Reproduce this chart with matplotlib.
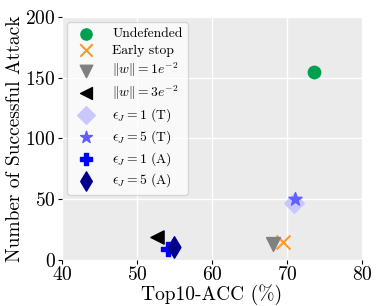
import matplotlib
matplotlib.use('Agg')
import matplotlib.pyplot as plt

plt.rcParams['font.family'] = 'serif'
plt.rcParams['font.serif'] = ['cmr10']
plt.rcParams['mathtext.fontset'] = 'cm'
plt.rcParams['axes.formatter.use_mathtext'] = True

# data: (label, acc, attacks)
labels = ['Undefended', 'Early stop', r'$\|w\| = 1e^{-2}$', r'$\|w\| = 3e^{-2}$',
          r'$\epsilon_J = 1$ (T)', r'$\epsilon_J = 5$ (T)', r'$\epsilon_J = 1$ (A)', r'$\epsilon_J = 5$ (A)']
acc = [73.6, 69.5, 68.1, 52.7, 70.9, 71.1, 54.1, 55.0]
attacks = [155, 15, 13, 19, 47, 50, 9, 11]

markers = ['o', 'x', 'v', '<', 'D', '*', 'P', 'd']
colors = ['#00a050', '#ff9a20', 'gray', 'black', '#c8c8ff', '#6060ff', 'blue', 'darkblue']
sizes = [80, 100, 100, 90, 100, 100, 100, 120]

fig, ax = plt.subplots(figsize=(3.82, 3.06), dpi=100)
ax.set_facecolor('#ebebeb')
for s in ax.spines.values():
    s.set_visible(False)
ax.grid(True, color='white', linewidth=1)
ax.set_axisbelow(True)

for i in range(len(labels)):
    ax.scatter(acc[i], attacks[i], marker=markers[i], c=colors[i], s=sizes[i],
               label=labels[i], zorder=3)

ax.set_xlim(40, 80)
ax.set_ylim(0, 200)
ax.set_xticks([40, 50, 60, 70, 80])
ax.set_yticks([0, 50, 100, 150, 200])
ax.tick_params(labelsize=14, length=3, pad=1.5)
ax.set_xlabel('Top10-ACC (%)', fontsize=14, labelpad=0)
ax.set_ylabel('Number of Successful Attack', fontsize=14, labelpad=1)
ax.legend(loc='upper left', fontsize=9.8, framealpha=0.7, labelspacing=0.3,
          handlelength=1.9, handletextpad=1.0, borderpad=0.4, markerscale=0.9,
          borderaxespad=0.4)

plt.subplots_adjust(left=0.162, right=0.948, top=0.945, bottom=0.15)
plt.savefig('out.png', dpi=100)
